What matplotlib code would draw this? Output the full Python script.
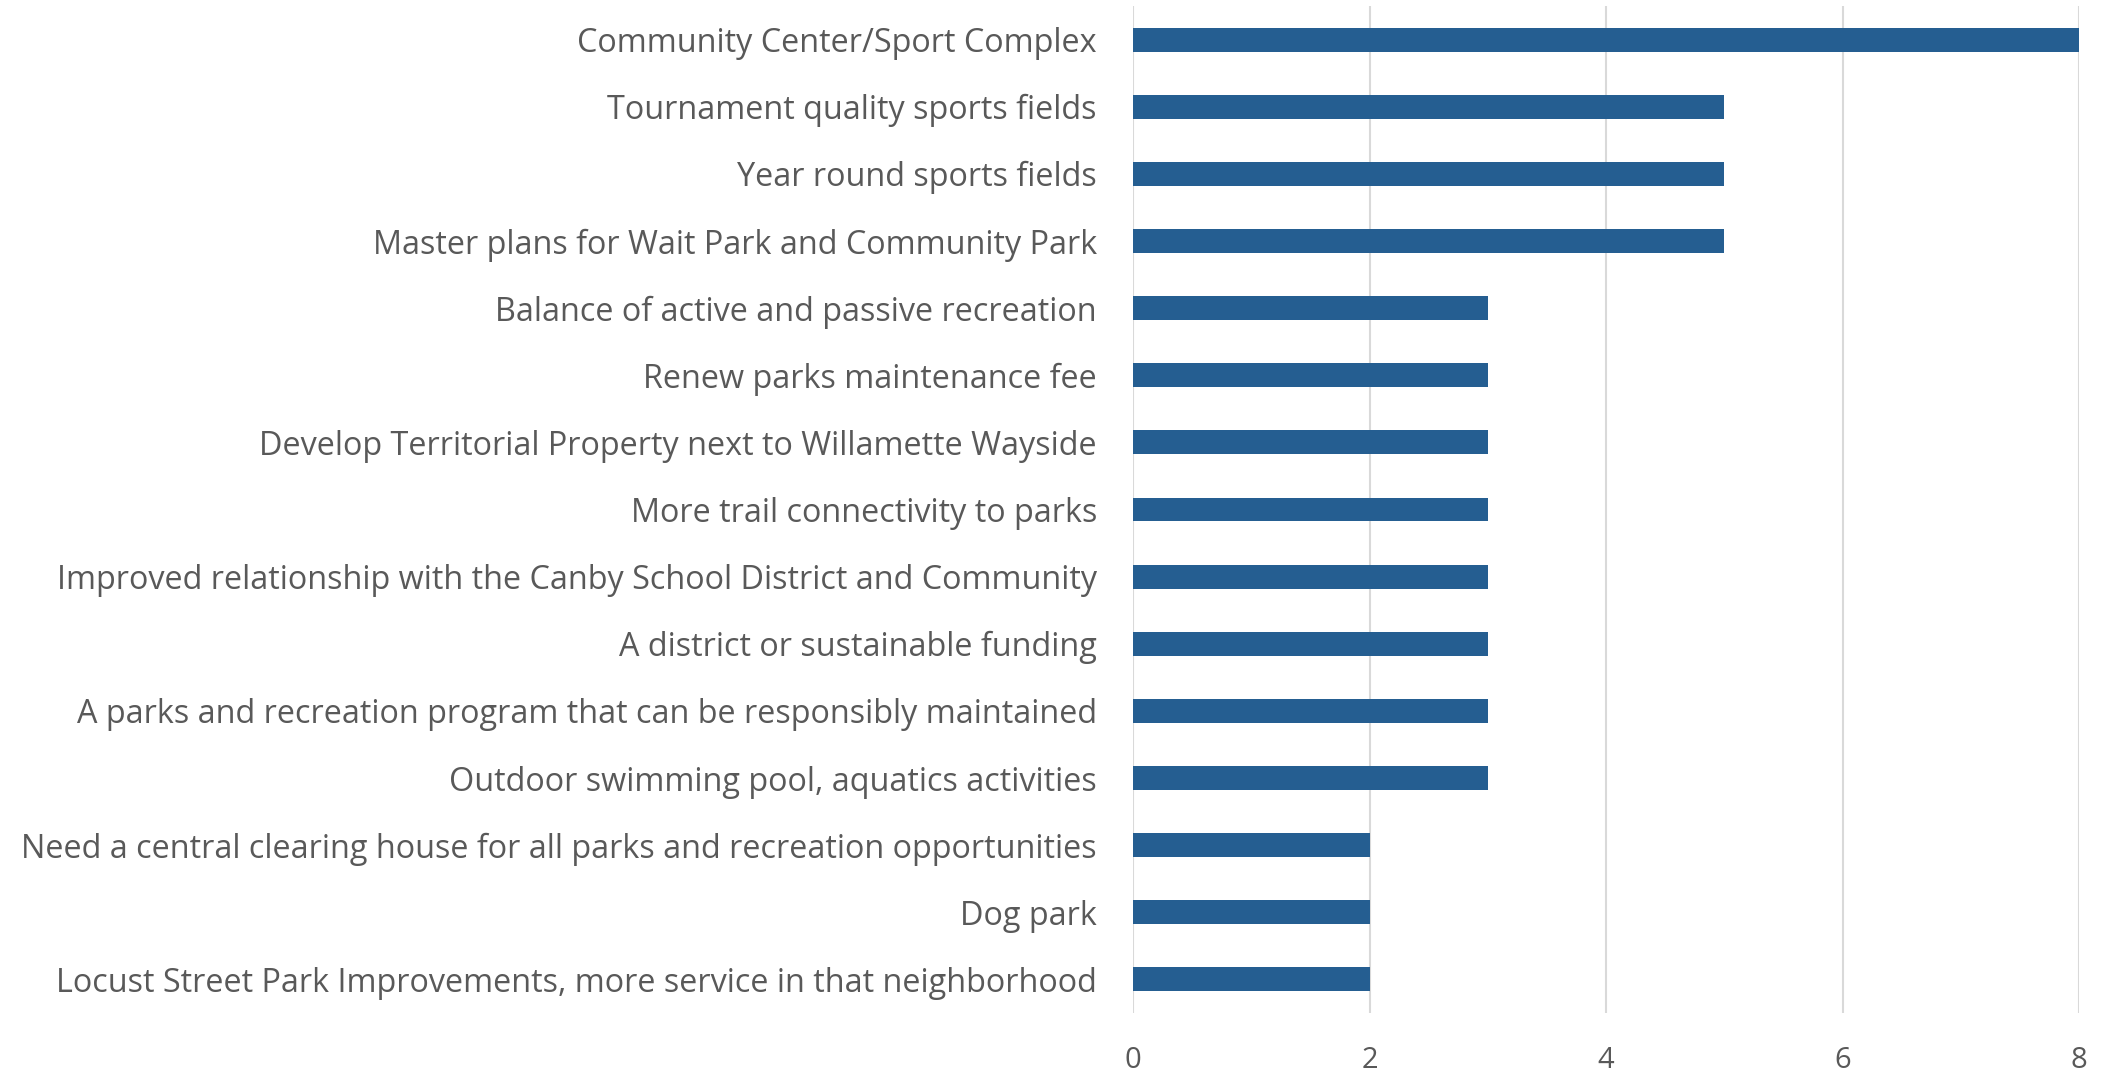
import matplotlib
matplotlib.use("Agg")
import matplotlib.pyplot as plt

# data (top to bottom as shown)
categories = [
    "Community Center/Sport Complex",
    "Tournament quality sports fields",
    "Year round sports fields",
    "Master plans for Wait Park and Community Park",
    "Balance of active and passive recreation",
    "Renew parks maintenance fee",
    "Develop Territorial Property next to Willamette Wayside",
    "More trail connectivity to parks",
    "Improved relationship with the Canby School District and Community",
    "A district or sustainable funding",
    "A parks and recreation program that can be responsibly maintained",
    "Outdoor swimming pool, aquatics activities",
    "Need a central clearing house for all parks and recreation opportunities",
    "Dog park",
    "Locust Street Park Improvements, more service in that neighborhood",
]
values = [8, 5, 5, 5, 3, 3, 3, 3, 3, 3, 3, 3, 2, 2, 2]
xticks = [0, 2, 4, 6, 8]

plt.rcParams['font.family'] = ['Open Sans', 'DejaVu Sans']

fig = plt.figure(figsize=(21.15, 10.79), dpi=100)
ax = fig.add_axes([0.5357, 0.0612, 0.4473, 0.9332])

ypos = list(range(len(categories)))
ax.barh(ypos, values, height=0.357, color="#255E91", zorder=3)
ax.set_ylim(len(categories) - 0.5, -0.5)
ax.set_xlim(0, 8)
ax.set_yticks(ypos)
ax.set_yticklabels(categories, fontsize=23.3, color="#595959")
ax.set_xticks(xticks)
ax.set_xticklabels([str(t) for t in xticks], fontsize=21, color="#595959")
ax.tick_params(axis="y", length=0, pad=26)
ax.tick_params(axis="x", length=0, pad=24)
ax.grid(axis="x", color="#D9D9D9", linewidth=1.5, zorder=0)
for s in ax.spines.values():
    s.set_visible(False)

plt.savefig("out.png", dpi=100)
